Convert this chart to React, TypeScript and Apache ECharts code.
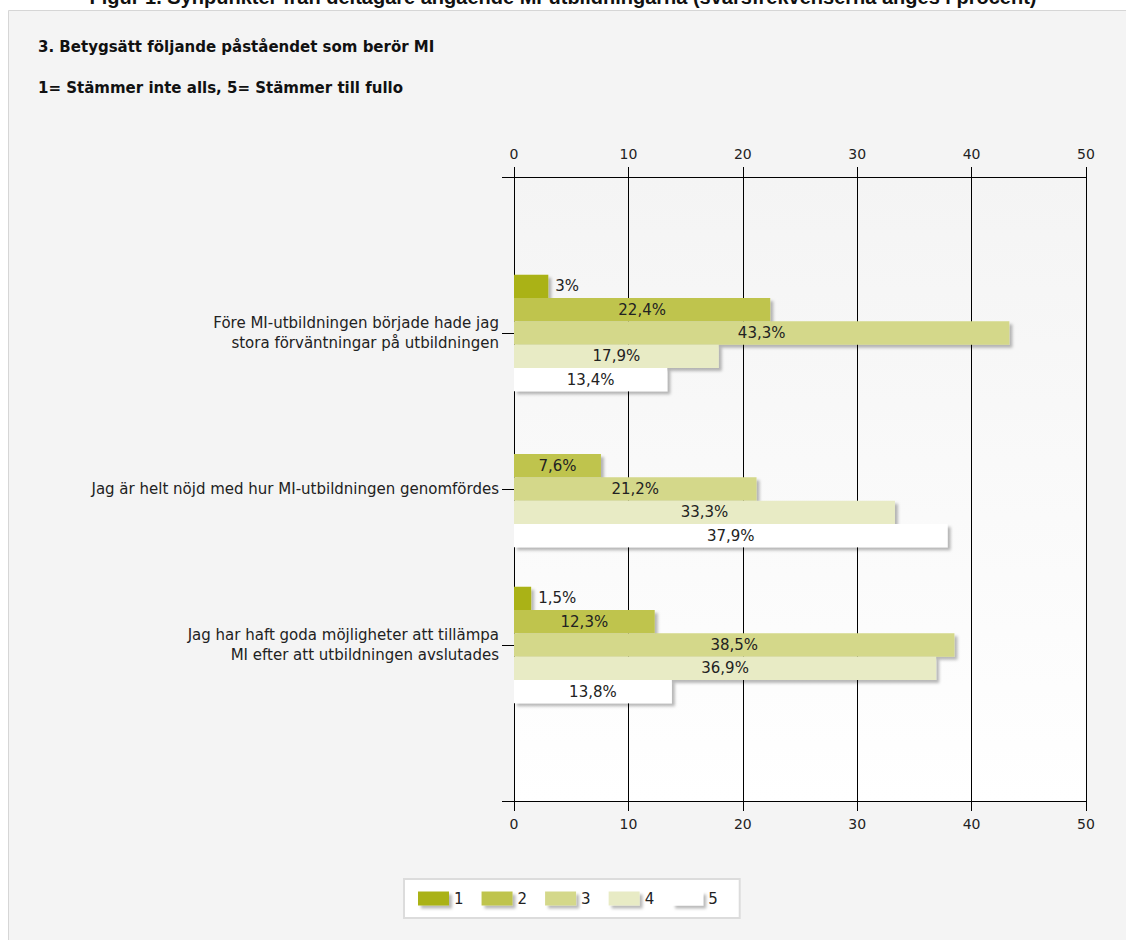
import React, { useEffect, useRef } from "react";
import * as echarts from "echarts";

const categories = [
  "",
  "Före MI-utbildningen började hade jag\nstora förväntningar på utbildningen",
  "Jag är helt nöjd med hur MI-utbildningen genomfördes",
  "Jag har haft goda möjligheter att tillämpa\nMI efter att utbildningen avslutades",
  "",
];
const seriesNames = ["1", "2", "3", "4", "5"];
const values1 = [null, 3, null, 1.5, null];
const values2 = [null, 22.4, 7.6, 12.3, null];
const values3 = [null, 43.3, 21.2, 38.5, null];
const values4 = [null, 17.9, 33.3, 36.9, null];
const values5 = [null, 13.4, 37.9, 13.8, null];
const xTicks = { min: 0, max: 50, interval: 10 };
const colors = ["#aab213", "#bfc44e", "#d4d88a", "#e8ebc5", "#ffffff"];
const figTitle =
  "Figur 1. Synpunkter från deltagare angående MI-utbildningarna (svarsfrekvenserna anges i procent)";
const title1 = "3. Betygsätt följande påståendet som berör MI";
const title2 = "1= Stämmer inte alls, 5= Stämmer till fullo";

const FONT = "DejaVu Sans, Verdana, sans-serif";

export default function App() {
  const ref = useRef<HTMLDivElement>(null);
  useEffect(() => {
    if (!ref.current) return;
    const chart = echarts.init(ref.current, null, { renderer: "svg" });
    const all = [values1, values2, values3, values4, values5];
    const fmt = (v: number) => String(v).replace(".", ",") + "%";
    const series = all.map((vals, i) => ({
      name: seriesNames[i],
      type: "bar",
      xAxisIndex: 0,
      barWidth: 23.3,
      barGap: "0%",
      itemStyle: {
        color: colors[i],
        shadowColor: "rgba(0,0,0,0.28)",
        shadowBlur: 3,
        shadowOffsetX: 3,
        shadowOffsetY: 3,
      },
      label: {
        show: true,
        position: "inside",
        color: "#222",
        fontFamily: FONT,
        fontSize: 15,
        formatter: (p: any) => fmt(p.value),
      },
      data: vals.map((v) =>
        v == null ? null : v < 5 ? { value: v, label: { position: "right", distance: 7 } } : v
      ),
    }));
    const axisCommon = {
      type: "value",
      min: xTicks.min,
      max: xTicks.max,
      interval: xTicks.interval,
      axisLine: { show: true, lineStyle: { color: "#000", width: 1 } },
      axisTick: { show: true, length: 10, lineStyle: { color: "#000" } },
      axisLabel: { color: "#222", fontFamily: FONT, fontSize: 14, margin: 16 },
    };
    chart.setOption({
      animation: false,
      backgroundColor: "#ffffff",
      color: colors,
      graphic: [
        {
          type: "rect",
          z: -10,
          silent: true,
          shape: { x: 8.5, y: 10.5, width: 1130, height: 940 },
          style: { fill: "#f4f4f4", stroke: "#d6d6d6", lineWidth: 1 },
        },
        {
          type: "text",
          z: -20,
          left: "center",
          top: -13,
          style: {
            text: figTitle,
            fontFamily: "Liberation Sans, Arial, sans-serif",
            fontWeight: "bold",
            fontSize: 20,
            fill: "#111",
          },
        },
        {
          type: "text",
          x: 38,
          y: 47,
          style: {
            text: title1,
            fontFamily: FONT,
            fontWeight: "bold",
            fontSize: 15,
            fill: "#111",
            verticalAlign: "middle",
          },
        },
        {
          type: "text",
          x: 38,
          y: 88,
          style: {
            text: title2,
            fontFamily: FONT,
            fontWeight: "bold",
            fontSize: 15,
            fill: "#111",
            verticalAlign: "middle",
          },
        },
      ],
      legend: {
        data: seriesNames,
        left: 404,
        top: 879,
        orient: "horizontal",
        itemWidth: 31,
        itemHeight: 14,
        itemGap: 18,
        icon: "rect",
        padding: [12, 22, 12, 14],
        backgroundColor: "#ffffff",
        borderColor: "#dcdcdc",
        borderWidth: 2,
        borderRadius: 0,
        textStyle: { color: "#222", fontFamily: FONT, fontSize: 15 },
        itemStyle: {
          shadowColor: "rgba(0,0,0,0.28)",
          shadowBlur: 3,
          shadowOffsetX: 3,
          shadowOffsetY: 3,
        },
      },
      grid: {
        left: 514,
        right: 40,
        top: 177,
        bottom: 139,
        containLabel: false,
        show: true,
        borderWidth: 0,
        backgroundColor: new echarts.graphic.LinearGradient(0, 0, 0, 1, [
          { offset: 0, color: "#f4f4f4" },
          { offset: 1, color: "#ffffff" },
        ]),
      },
      xAxis: [
        {
          ...axisCommon,
          position: "top",
          splitLine: { show: true, lineStyle: { color: "#000", width: 1 } },
        },
        {
          ...axisCommon,
          position: "bottom",
          splitLine: { show: false },
        },
      ],
      yAxis: {
        type: "category",
        data: categories,
        inverse: true,
        boundaryGap: false,
        axisLine: { show: true, lineStyle: { color: "#000", width: 1 } },
        axisTick: { show: true, length: 12, lineStyle: { color: "#000" } },
        splitLine: { show: false },
        axisLabel: {
          color: "#222",
          fontFamily: FONT,
          fontSize: 15,
          lineHeight: 20,
          margin: 15,
          align: "right",
        },
      },
      series,
    });
    return () => chart.dispose();
  }, []);
  return (
    <div
      ref={ref}
      style={{ position: "fixed", left: 0, top: 0, width: 1126, height: 940 }}
    />
  );
}
